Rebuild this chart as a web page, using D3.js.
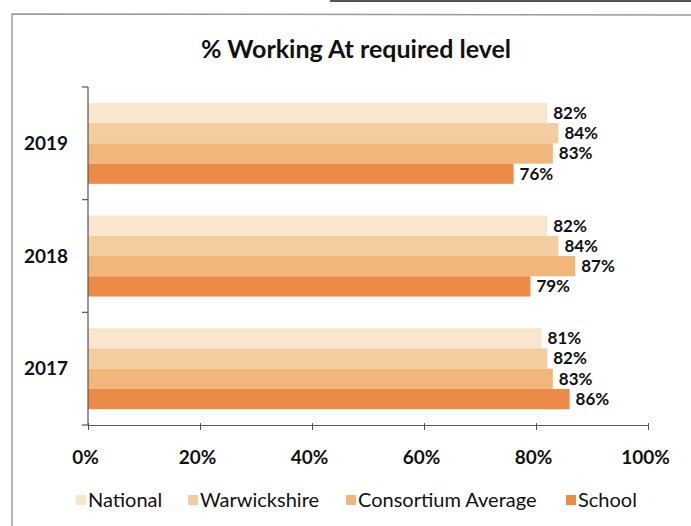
<!DOCTYPE html>
<html>
<head>
<meta charset="utf-8">
<title>% Working At required level</title>
<style>
  body { margin: 0; background: #fff; }
  svg { display: block; font-family: Lato, "Open Sans", sans-serif; }
</style>
<script src="https://d3js.org/d3.v7.min.js"></script>
</head>
<body>
<svg width="691" height="526"></svg>
<script>
// data
var years = ["2019", "2018", "2017"];
var seriesNames = ["National", "Warwickshire", "Consortium Average", "School"];
var national = [82, 82, 81];
var warwickshire = [84, 84, 82];
var consortium = [83, 87, 83];
var school = [76, 79, 86];
var xTicks = [0, 20, 40, 60, 80, 100];
var colours = ["#f8e7cd", "#f3cd9f", "#f1b679", "#ec8a47"];

var values = [national, warwickshire, consortium, school];

var svg = d3.select("svg");

// scanned page frame
svg.append("path")
   .attr("d", "M12,526 L12,14 L691,15")
   .attr("fill", "none")
   .attr("stroke", "#9a9a9a")
   .attr("stroke-width", 1.5);
svg.append("line")
   .attr("x1", 330).attr("y1", 1).attr("x2", 691).attr("y2", 1)
   .attr("stroke", "#555").attr("stroke-width", 2);

svg.append("text")
   .attr("x", 356).attr("y", 58)
   .attr("text-anchor", "middle")
   .attr("font-size", 25)
   .attr("font-weight", "bold")
   .attr("fill", "#111")
   .text("% Working At required level");

var plotL = 88, plotR = 648, plotT = 87, plotB = 425;

var x = d3.scaleLinear().domain([0, 100]).range([plotL, plotR]);
var y = d3.scaleBand().domain(years).range([plotT, plotB]).padding(0);
var yInner = d3.scaleBand().domain(seriesNames).range([0, y.bandwidth()])
    .paddingInner(0).paddingOuter(0.78);

function rows(d, i) {
    return seriesNames.map(function(s, j) { return { s: s, j: j, v: values[j][i] }; });
}

var groups = svg.selectAll(".year")
   .data(years)
   .enter().append("g")
   .attr("class", "year")
   .attr("transform", function(d) { return "translate(0," + y(d) + ")"; });

groups.selectAll("rect")
   .data(rows)
   .enter().append("rect")
   .attr("x", x(0))
   .attr("y", function(d) { return yInner(d.s); })
   .attr("width", function(d) { return x(d.v) - x(0); })
   .attr("height", yInner.bandwidth())
   .attr("fill", function(d) { return colours[d.j]; });

groups.selectAll(".lbl")
   .data(rows)
   .enter().append("text")
   .attr("class", "lbl")
   .attr("x", function(d) { return x(d.v) + 6; })
   .attr("y", function(d) { return yInner(d.s) + yInner.bandwidth() / 2; })
   .attr("dy", "0.35em")
   .attr("font-size", 17)
   .attr("font-weight", "bold")
   .attr("fill", "#111")
   .text(function(d) { return d.v + "%"; });

// y axis with ticks between categories
var yAxis = svg.append("g");
yAxis.append("line")
   .attr("x1", plotL).attr("x2", plotL).attr("y1", plotT).attr("y2", plotB)
   .attr("stroke", "#555").attr("stroke-width", 1.2);
yAxis.selectAll(".tk")
   .data([plotT].concat(years.map(function(d) { return y(d) + y.bandwidth(); })))
   .enter().append("line")
   .attr("x1", plotL - 6).attr("x2", plotL)
   .attr("y1", function(d) { return d; }).attr("y2", function(d) { return d; })
   .attr("stroke", "#555").attr("stroke-width", 1.2);
yAxis.selectAll(".cat")
   .data(years)
   .enter().append("text")
   .attr("x", plotL - 20)
   .attr("y", function(d) { return y(d) + y.bandwidth() / 2; })
   .attr("dy", "0.35em")
   .attr("text-anchor", "end")
   .attr("font-size", 19)
   .attr("font-weight", "bold")
   .attr("fill", "#111")
   .text(function(d) { return d; });

// x axis
var xAxis = svg.append("g")
   .attr("transform", "translate(0," + plotB + ")")
   .call(d3.axisBottom(x).tickValues(xTicks).tickSize(5).tickSizeOuter(0)
        .tickFormat(function(d) { return d + "%"; }));
xAxis.select(".domain").attr("stroke", "#555").attr("stroke-width", 1.2);
xAxis.selectAll(".tick line").attr("stroke", "#555").attr("y1", -2);
xAxis.selectAll(".tick text")
   .attr("x", -3)
   .attr("y", 26)
   .attr("font-family", "Lato, 'Open Sans', sans-serif")
   .attr("font-size", 19)
   .attr("font-weight", "bold")
   .attr("fill", "#111");

// legend
var legendX = [76, 188, 346, 566];
var legend = svg.selectAll(".leg")
   .data(seriesNames)
   .enter().append("g")
   .attr("class", "leg")
   .attr("transform", function(d, i) { return "translate(" + legendX[i] + ",500)"; });
legend.append("rect")
   .attr("x", 0).attr("y", -5).attr("width", 10).attr("height", 10)
   .attr("fill", function(d, i) { return colours[i]; });
legend.append("text")
   .attr("x", 12).attr("dy", "0.35em")
   .attr("font-size", 20)
   .attr("fill", "#111")
   .text(function(d) { return d; });
</script>
</body>
</html>
